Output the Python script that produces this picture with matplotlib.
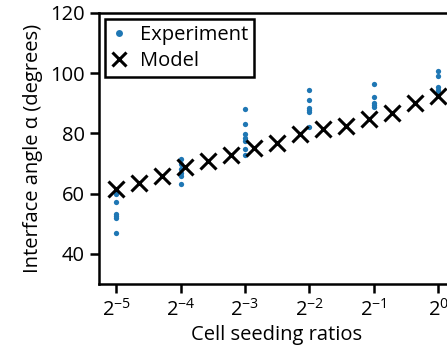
import numpy as np
import matplotlib
matplotlib.use("Agg")
import matplotlib.pyplot as plt

plt.rcParams["font.family"] = ["Open Sans", "DejaVu Sans"]
plt.rcParams["mathtext.fontset"] = "custom"
plt.rcParams["mathtext.rm"] = "Open Sans"
plt.rcParams["mathtext.it"] = "Open Sans:italic"
plt.rcParams["mathtext.bf"] = "Open Sans:bold"

# experimental measurements, grouped by seeding-ratio exponent (base 2)
exp_exponents = [-5, -4, -3, -2, -1, 0]
exp_angles = [
    [61.0, 59.8, 57.2, 53.3, 52.6, 52.0, 46.9],
    [71.4, 69.9, 68.1, 66.8, 65.9, 63.2],
    [88.2, 83.1, 79.7, 78.4, 77.6, 74.8, 72.9],
    [94.5, 91.1, 88.6, 87.8, 87.0, 82.2],
    [96.4, 92.2, 90.2, 89.5, 88.8],
    [100.7, 99.1, 95.3, 94.4, 93.7],
]

# model prediction on 15 log-spaced ratios from 2^-5 to 2^0
model_exponents = np.linspace(-5, 0, 15)
model_angles = [61.5, 63.5, 65.7, 68.8, 71.0, 73.0, 75.3, 76.7,
                79.7, 81.5, 82.6, 84.7, 86.7, 90.0, 92.4]

FS = 14.5

fig = plt.figure(figsize=(4.47, 3.5), dpi=100)
ax = fig.add_axes([0.2222, 0.1886, 0.7944, 0.7743])

ex, ey = [], []
for e, vals in zip(exp_exponents, exp_angles):
    ex += [2.0 ** e] * len(vals)
    ey += vals
ax.plot(ex, ey, "o", ls="none", color="#1f77b4", ms=3.8, mew=0,
        label="Experiment", zorder=2)
ax.plot(2.0 ** model_exponents, model_angles, "x", ls="none", color="black",
        ms=12, mew=2.2, label="Model", zorder=3)

ax.set_xscale("log", base=2)
ax.set_xlim(2 ** -5.26, 2 ** 0.25)
ax.set_ylim(30, 120)
ax.set_xticks([2.0 ** e for e in exp_exponents])
ax.set_xticklabels([rf"$2^{{{e}}}$" if e < 0 else r"$2^{0}$" for e in exp_exponents])
ax.xaxis.set_minor_locator(plt.NullLocator())
ax.set_yticks([40, 60, 80, 100, 120])

for s in ax.spines.values():
    s.set_linewidth(1.8)
ax.tick_params(axis="both", width=1.8, length=6.5, labelsize=FS, pad=4)

ax.set_xlabel("Cell seeding ratios", fontsize=FS, labelpad=3)
ax.set_ylabel("Interface angle α (degrees)", fontsize=FS, labelpad=5)

leg = ax.legend(loc="upper left", fontsize=FS, handlelength=0.8,
                handletextpad=0.6, borderpad=0.3, labelspacing=0.3,
                borderaxespad=0.3, fancybox=False, framealpha=1,
                edgecolor="black")
leg.get_frame().set_linewidth(1.8)
leg.legend_handles[0].set_markersize(5)
leg.legend_handles[1].set_markersize(10)

fig.savefig("out.png", dpi=100)
